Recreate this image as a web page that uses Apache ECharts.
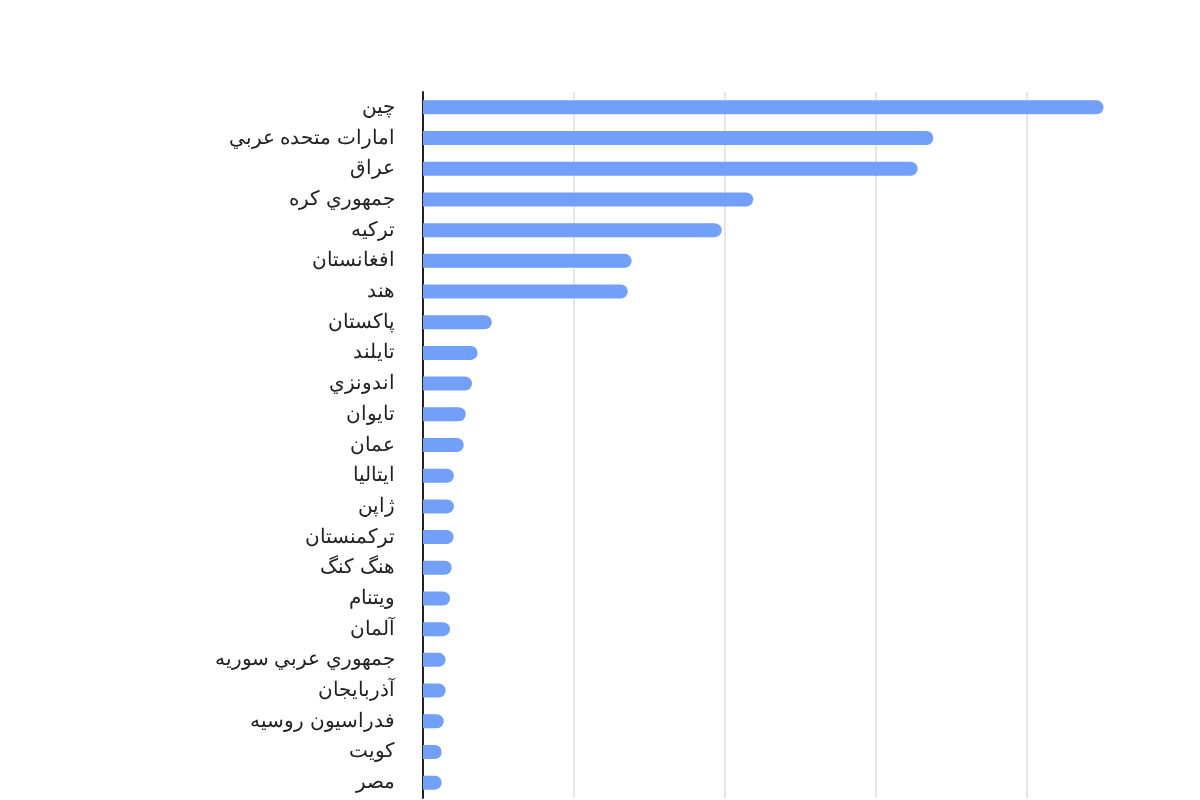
<!DOCTYPE html>
<html>
<head>
<meta charset="utf-8">
<script src="https://cdn.jsdelivr.net/npm/echarts@6/dist/echarts.min.js"></script>
<style>
html,body{margin:0;padding:0;background:#fff;}
#chart{width:1200px;height:800px;}
</style>
</head>
<body>
<div id="chart"></div>
<script>
const categories = [
  "چين",
  "امارات متحده عربي",
  "عراق",
  "جمهوري کره",
  "ترکيه",
  "افغانستان",
  "هند",
  "پاکستان",
  "تايلند",
  "اندونزي",
  "تايوان",
  "عمان",
  "ايتاليا",
  "ژاپن",
  "ترکمنستان",
  "هنگ کنگ",
  "ويتنام",
  "آلمان",
  "جمهوري عربي سوريه",
  "آذربايجان",
  "فدراسيون روسيه",
  "کويت",
  "مصر"
];
const values = [
  450.7, 338, 327.6, 218.7, 197.8, 138.2, 135.6, 45.5, 36.2, 32.5, 28.3, 27,
  20.5, 20.5, 20.3, 19, 17.9, 17.9, 15, 15, 13.7, 12.4, 12.4
];
const xMin = 0;
const xMax = 500;
const xInterval = 100;

const chart = echarts.init(document.getElementById('chart'));
chart.setOption({
  animation: false,
  backgroundColor: '#ffffff',
  grid: { left: 423, right: 22, top: 92, bottom: 2, containLabel: false },
  xAxis: {
    type: 'value',
    min: xMin,
    max: xMax,
    interval: xInterval,
    axisLine: { show: false },
    axisTick: { show: false },
    axisLabel: { show: false },
    splitLine: { show: true, showMinLine: false, showMaxLine: false, lineStyle: { color: '#dedede', width: 1.5 } }
  },
  yAxis: {
    type: 'category',
    data: categories,
    inverse: true,
    axisLine: { show: true, lineStyle: { color: '#222222', width: 2 } },
    axisTick: { show: false },
    axisLabel: { color: '#222222', fontSize: 20, fontFamily: 'Arial, sans-serif', margin: 28 },
    splitLine: { show: false }
  },
  series: [{
    type: 'bar',
    data: values,
    barWidth: 14,
    itemStyle: { color: '#729ff8', borderRadius: [0, 7, 7, 0] }
  }]
});
</script>
</body>
</html>
